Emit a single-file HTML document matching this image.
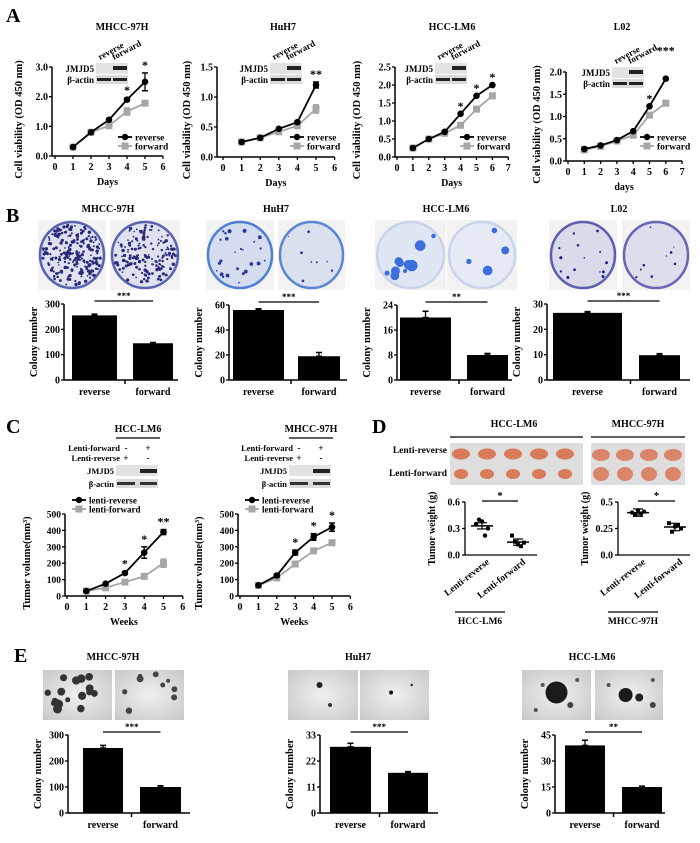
<!DOCTYPE html>
<html><head><meta charset="utf-8"><style>
html,body{margin:0;padding:0;background:#fff;}
svg{display:block;font-family:"Liberation Serif",serif;font-weight:bold;}
</style></head><body>
<svg id="fig" width="700" height="843" viewBox="0 0 700 843">
<defs>
<radialGradient id="dishB" cx="50%" cy="50%" r="50%"><stop offset="85%" stop-color="#e6e8f2"/><stop offset="100%" stop-color="#7f8fd0"/></radialGradient>
<radialGradient id="gray" cx="50%" cy="50%" r="70%"><stop offset="0%" stop-color="#f0f0f0"/><stop offset="100%" stop-color="#c8c8c8"/></radialGradient>
</defs>
<text x="6" y="22" font-size="20">A</text>
<text x="6" y="222" font-size="20">B</text>
<text x="6" y="433" font-size="20">C</text>
<text x="372" y="433" font-size="20">D</text>
<text x="14" y="662" font-size="20">E</text>
</svg>
<script>
// ---------- DATA ----------
const daysA=[1,2,3,4,5];
const daysA6=[1,2,3,4,5,6];
const a1Rev=[0.3,0.8,1.22,1.9,2.5];
const a1Fwd=[0.3,0.8,1.02,1.5,1.78];
const a1RevErr=[0,0,0.04,0.05,0.3];
const a1FwdErr=[0,0,0.05,0.12,0.06];
const a2Rev=[0.25,0.32,0.47,0.58,1.2];
const a2Fwd=[0.25,0.32,0.42,0.52,0.8];
const a2RevErr=[0,0,0,0.02,0.05];
const a2FwdErr=[0,0,0.03,0.03,0.07];
const a3Rev=[0.25,0.5,0.7,1.2,1.7,2.0];
const a3Fwd=[0.25,0.5,0.66,0.88,1.33,1.7];
const a4Rev=[0.27,0.35,0.47,0.67,1.23,1.85];
const a4Fwd=[0.25,0.33,0.45,0.58,1.03,1.3];
const aTicks1=[0,1,2,3];const aTickLabels1=["0.0","1.0","2.0","3.0"];
const aTicks2=[0,0.5,1,1.5];const aTickLabels2=["0.0","0.5","1.0","1.5"];
const aTicks3=[0,0.5,1,1.5,2,2.5];const aTickLabels3=["0.0","0.5","1.0","1.5","2.0","2.5"];
const aTicks4=[0,0.5,1,1.5,2];const aTickLabels4=["0.0","0.5","1.0","1.5","2.0"];
const groups=["reverse","forward"];
const b1Vals=[255,145];const b1Err=[5,3];const b1Ticks=[0,100,200,300];
const b2Vals=[56,19];const b2Err=[1,3];const b2Ticks=[0,20,40,60];
const b3Vals=[20,8];const b3Err=[2,0.5];const b3Ticks=[0,8,16,24];
const b4Vals=[26.5,9.8];const b4Err=[0.5,0.6];const b4Ticks=[0,10,20,30];
const weeks=[1,2,3,4,5];
const c1Rev=[30,75,140,265,390];const c1Fwd=[30,50,85,120,200];
const c1RevErr=[0,5,8,35,15];const c1FwdErr=[0,5,5,5,25];
const c2Rev=[65,125,265,360,420];const c2Fwd=[65,110,195,275,325];
const c2RevErr=[0,10,15,20,25];const c2FwdErr=[0,5,8,5,8];
const cTicks=[0,100,200,300,400,500];
const d1Rev=[0.35,0.4,0.38,0.22,0.3];const d1Fwd=[0.22,0.15,0.12,0.1,0.14];
const d2Rev=[0.4,0.38,0.42,0.39,0.41];const d2Fwd=[0.3,0.22,0.27,0.28,0.25];
const d1Ticks=[0,0.3,0.6];const d1TickLabels=["0.0","0.3","0.6"];
const d2Ticks=[0,0.25,0.5];const d2TickLabels=["0.0","0.25","0.5"];
const e1Vals=[250,100];const e1Err=[10,5];const e1Ticks=[0,100,200,300];
const e2Vals=[28,17];const e2Err=[1.5,0.5];const e2Ticks=[0,11,22,33];
const e3Vals=[39,15];const e3Err=[3,0.5];const e3Ticks=[0,15,30,45];

// ---------- HELPERS ----------
const NS='http://www.w3.org/2000/svg';
const svg=document.getElementById('fig');
function mk(tag,attrs,parent){const e=document.createElementNS(NS,tag);for(const k in attrs)e.setAttribute(k,attrs[k]);(parent||svg).appendChild(e);return e;}
function txt(x,y,s,size,anchor,rot,parent){const e=mk('text',{x:x,y:y,'font-size':size,'text-anchor':anchor||'middle'},parent);if(rot)e.setAttribute('transform','rotate('+rot+' '+x+' '+y+')');e.textContent=s;return e;}
function ln(x1,y1,x2,y2,w,c,parent){return mk('line',{x1:x1,y1:y1,x2:x2,y2:y2,stroke:c||'#000','stroke-width':w||1.3},parent);}
function ebar(x,y1,y2,parent){ln(x,y1,x,y2,1.3,'#000',parent);ln(x-3,y1,x+3,y1,1.5,'#000',parent);ln(x-3,y2,x+3,y2,1.5,'#000',parent);}

function title(x,y,s,name){const t=txt(x,y,s,10);

}

// ---------- PANEL A ----------
function blotA(bx,by,name){
  const g=mk('g',{});
  
  
  mk('rect',{x:bx,y:by,width:32,height:11,fill:'#e2e2e2'},g);
  mk('rect',{x:bx+17,y:by+3,width:14,height:4,fill:'#222'},g);
  mk('rect',{x:bx,y:by+12,width:32,height:9,fill:'#dadada'},g);
  mk('rect',{x:bx+1,y:by+15,width:14,height:3,fill:'#222'},g);
  mk('rect',{x:bx+17,y:by+15,width:14,height:3,fill:'#222'},g);
  txt(bx-2,by+9,'JMJD5',9,'end',0,g);
  txt(bx-2,by+20,'\u03b2-actin',9,'end',0,g);
  txt(bx+4,by-3,'reverse',9,'start',-28,g);
  txt(bx+18,by-3,'forward',9,'start',-28,g);
}
function lineChart(c,xs,rev,fwd,revErr,fwdErr,ticks,tickLabels,name){
  const g=mk('g',{});
  
  
  const X=v=>c.x0+v*c.dx, Y=v=>c.y0-(v/c.ymax)*(c.y0-c.ytop);
  ln(c.ax,c.y0,X(c.xmax),c.y0,1.5,'#000',g);
  ln(c.ax,c.ytop,c.ax,c.y0,1.5,'#000',g);
  ticks.forEach((t,i)=>{ln(c.ax-3,Y(t),c.ax,Y(t),1.3,'#000',g);txt(c.ax-4,Y(t)+3.5,tickLabels[i],c.fs||10,'end',0,g);});
  for(let i=0;i<=c.xmax;i++){ln(X(i),c.y0,X(i),c.y0+3,1.3,'#000',g);txt(X(i),c.y0+14,String(i),10,'middle',0,g);}
  txt((c.ax+X(c.xmax))/2,c.y0+29,c.xlabel,10,'middle',0,g);
  txt(c.yt,(c.y0+c.ytop)/2+8,c.ytitle,c.yfs||10.5,'middle',-90,g);
  [[fwd,fwdErr,'#a6a6a6','forward'],[rev,revErr,'#000','reverse']].forEach(([arr,err,col,nm])=>{
    const pts=arr.map((v,i)=>X(xs[i])+','+Y(v)).join(' ');
    const pl=mk('polyline',{points:pts,fill:'none',stroke:col,'stroke-width':1.8},g);
    
    
    arr.forEach((v,i)=>{
      if(err&&err[i]>0){const e=mk('g',{},g);ln(X(xs[i]),Y(v+err[i]),X(xs[i]),Y(v-err[i]),1.3,col,e);ln(X(xs[i])-3,Y(v+err[i]),X(xs[i])+3,Y(v+err[i]),1.5,col,e);ln(X(xs[i])-3,Y(v-err[i]),X(xs[i])+3,Y(v-err[i]),1.5,col,e);}
      let m;
      if(nm==='reverse'){m=mk('circle',{cx:X(xs[i]),cy:Y(v),r:3.3,fill:col},g);}
      else{m=mk('rect',{x:X(xs[i])-3.5,y:Y(v)-3.5,width:7,height:7,fill:col},g);}
      
      
    });
  });
  (c.stars||[]).forEach(s=>{const yy=Y(rev[s[0]]+(revErr?revErr[s[0]]:0));txt(X(xs[s[0]]),yy-4+(s[2]||0),s[1],12,'middle',0,g);});
  const lx=c.lx, ly=c.ly;
  const l1=mk('g',{},g);
  
  
  ln(lx,ly,lx+14,ly,1.8,'#000',l1);mk('circle',{cx:lx+7,cy:ly,r:3.2,fill:'#000'},l1);txt(lx+17,ly+3.5,c.l1||'reverse',c.lfs||9.5,'start',0,l1);
  const l2=mk('g',{},g);
  
  
  ln(lx,ly+9,lx+14,ly+9,1.8,'#a6a6a6',l2);mk('rect',{x:lx+3.5,y:ly+5.5,width:7,height:7,fill:'#a6a6a6'},l2);txt(lx+17,ly+12.5,c.l2||'forward',c.lfs||9.5,'start',0,l2);
}
title(122,30,'MHCC-97H','title-a-mhcc97h');
title(283,30,'HuH7','title-a-huh7');
title(452,30,'HCC-LM6','title-a-hcclm6');
title(622,30,'L02','title-a-l02');
lineChart({ax:52,x0:55,dx:18,xmax:6,y0:156,ytop:67,ymax:3,xlabel:'Days',yt:22,ytitle:'Cell viability (OD 450 nm)',lx:118,ly:137,stars:[[3,'*'],[4,'*']]},daysA,a1Rev,a1Fwd,a1RevErr,a1FwdErr,aTicks1,aTickLabels1,'chart-a-mhcc97h');
lineChart({ax:217,x0:223,dx:18.6,xmax:6,y0:157,ytop:67,ymax:1.5,xlabel:'Days',yt:190,ytitle:'Cell viability (OD 450 nm)',lx:290,ly:137,stars:[[4,'**']]},daysA,a2Rev,a2Fwd,a2RevErr,a2FwdErr,aTicks2,aTickLabels2,'chart-a-huh7');
lineChart({ax:395,x0:397,dx:15.9,xmax:7,y0:157,ytop:67,ymax:2.5,xlabel:'Days',yt:360,ytitle:'Cell viability (OD 450 nm)',lx:460,ly:137,stars:[[3,'*'],[4,'*'],[5,'*']]},daysA6,a3Rev,a3Fwd,null,null,aTicks3,aTickLabels3,'chart-a-hcclm6');
lineChart({ax:566,x0:568,dx:16.3,xmax:7,y0:161,ytop:72,ymax:2.0,xlabel:'days',yt:540,ytitle:'Cell viability (OD 450 nm)',lx:640,ly:137,stars:[[4,'*'],[5,'***',-20]]},daysA6,a4Rev,a4Fwd,null,null,aTicks4,aTickLabels4,'chart-a-l02');
blotA(96,63,'blot-a-mhcc97h');
blotA(270,63,'blot-a-huh7');
blotA(435,63,'blot-a-hcclm6');
blotA(612,67,'blot-a-l02');

// ---------- PHOTOS ----------
function dish(x,y,w,h,bg,rim,spots,name){
  const g=mk('g',{});
  
  
  mk('rect',{x:x,y:y,width:w,height:h,fill:'#f2f2f2'},g);
  mk('ellipse',{cx:x+w/2,cy:y+h/2,rx:w/2-2,ry:h/2-2,fill:bg,stroke:rim,'stroke-width':2.5},g);
  spots.forEach(s=>mk('circle',{cx:x+s[0]*w,cy:y+s[1]*h,r:s[2],fill:s[3]},g));
}
function spotsGen(n,seed,rmin,rmax,col){const out=[];let s=seed;const r=()=>{s=(s*9301+49297)%233280;return s/233280;};
  for(let i=0;i<n;i++){const a=r()*Math.PI*2,d=Math.sqrt(r())*0.44;out.push([0.5+Math.cos(a)*d,0.5+Math.sin(a)*d,rmin+r()*(rmax-rmin),col]);}return out;}
dish(38,220,68,70,'#dfe2ee','#5a63b0',spotsGen(220,3,0.8,1.8,'#2a2a7a'),'photo-b-mhcc97h-reverse');
dish(110,220,70,70,'#dfe2ee','#5a63b0',spotsGen(160,7,0.8,1.8,'#2a2a7a'),'photo-b-mhcc97h-forward');
dish(206,220,68,70,'#d5dced','#4f7fd0',spotsGen(25,11,0.7,2.2,'#2c3aa0'),'photo-b-huh7-reverse');
dish(278,220,67,70,'#dbe0ee','#5d86d2',spotsGen(8,13,0.5,1.5,'#2c3aa0'),'photo-b-huh7-forward');
dish(375,220,71,70,'#dfe6f4','#c9d3ea',spotsGen(10,17,2,6,'#3d6fdc'),'photo-b-hcclm6-reverse');
dish(447,220,70,70,'#e5eaf4','#c9d3ea',spotsGen(4,19,2,5,'#3d6fdc'),'photo-b-hcclm6-forward');
dish(549,220,68,70,'#d9dbea','#5d5fae',spotsGen(14,23,0.7,1.6,'#20208a'),'photo-b-l02-reverse');
dish(622,220,68,70,'#dcdeec','#6567b2',spotsGen(9,29,0.6,1.4,'#20208a'),'photo-b-l02-forward');

function micro(x,y,w,h,spots,name){
  const g=mk('g',{});
  
  
  mk('rect',{x:x,y:y,width:w,height:h,fill:'url(#gray)'},g);
  spots.forEach(s=>mk('circle',{cx:x+s[0]*w,cy:y+s[1]*h,r:s[2],fill:s[3]},g));
}
micro(43,670,69,50,spotsGen(18,31,2.5,4.5,'#333'),'photo-e-mhcc97h-reverse');
micro(115,670,69,50,spotsGen(9,37,1.5,3.5,'#444'),'photo-e-mhcc97h-forward');
micro(288,670,70,50,[[0.45,0.3,3,'#222'],[0.6,0.7,2,'#333']],'photo-e-huh7-reverse');
micro(360,670,69,50,[[0.45,0.45,2,'#111'],[0.75,0.3,1.2,'#222']],'photo-e-huh7-forward');
micro(522,670,69,50,[[0.5,0.45,11,'#1a1a1a'],[0.3,0.3,2,'#555'],[0.8,0.2,2,'#555'],[0.7,0.7,3,'#444'],[0.2,0.8,2,'#555']],'photo-e-hcclm6-reverse');
micro(595,670,68,50,[[0.45,0.5,7,'#1a1a1a'],[0.65,0.55,4,'#222'],[0.2,0.3,2,'#555'],[0.85,0.7,3,'#444'],[0.85,0.2,2,'#555']],'photo-e-hcclm6-forward');

// ---------- BAR CHARTS ----------
function barChart(c,vals,err,ticks,name){
  const g=mk('g',{});
  
  
  const Y=v=>c.y0-(v/ticks[ticks.length-1])*(c.y0-c.ytop);
  vals.forEach((v,i)=>{
    const b=c.bars[i];
    ebar((b[0]+b[1])/2,Y(v),Y(v+err[i]),g);
    const r=mk('rect',{x:b[0],y:Y(v),width:b[1]-b[0],height:c.y0-Y(v),fill:'#000'},g);
    
    
    txt((b[0]+b[1])/2,c.y0+15,groups[i],10,'middle',0,g);
  });
  ln(c.ax,c.ytop,c.ax,c.y0,1.5,'#000',g);
  ln(c.ax,c.y0,c.xend,c.y0,1.5,'#000',g);
  const mid=(c.bars[0][1]+c.bars[1][0])/2;
  ln(mid,c.y0,mid,c.y0+4,1.5,'#000',g);
  ticks.forEach(t=>{ln(c.ax-3,Y(t),c.ax,Y(t),1.3,'#000',g);txt(c.ax-4,Y(t)+3.5,String(t),10,'end',0,g);});
  txt(c.ax-27,(c.y0+c.ytop)/2,'Colony number',10.5,'middle',-90,g);
  const b0=c.bars[0],b1=c.bars[1];
  ln((b0[0]+b0[1])/2,c.ytop-3,(b1[0]+b1[1])/2,c.ytop-3,1.3,'#000',g);
  txt(((b0[0]+b0[1])/2+(b1[0]+b1[1])/2)/2,c.ytop-5,c.sig,9,'middle',0,g);
}
title(108,212,'MHCC-97H','title-b-mhcc97h');
title(276,212,'HuH7','title-b-huh7');
title(446,212,'HCC-LM6','title-b-hcclm6');
title(619,212,'L02','title-b-l02');
barChart({ax:64,y0:380,ytop:304,xend:178,bars:[[72,117],[133,173]],sig:'***'},b1Vals,b1Err,b1Ticks,'chart-b-mhcc97h');
barChart({ax:229,y0:380,ytop:305,xend:347,bars:[[233,284],[298,340]],sig:'***'},b2Vals,b2Err,b2Ticks,'chart-b-huh7');
barChart({ax:397,y0:380,ytop:305,xend:512,bars:[[400,451],[467,508]],sig:'**'},b3Vals,b3Err,b3Ticks,'chart-b-hcclm6');
barChart({ax:547,y0:380,ytop:304,xend:690,bars:[[553,622],[639,680]],sig:'***'},b4Vals,b4Err,b4Ticks,'chart-b-l02');
title(113,660,'MHCC-97H','title-e-mhcc97h');
title(358,660,'HuH7','title-e-huh7');
title(592,660,'HCC-LM6','title-e-hcclm6');
barChart({ax:68,y0:813,ytop:735,xend:190,bars:[[83,123],[140,181]],sig:'***'},e1Vals,e1Err,e1Ticks,'chart-e-mhcc97h');
barChart({ax:320,y0:813,ytop:735,xend:438,bars:[[330,371],[388,428]],sig:'***'},e2Vals,e2Err,e2Ticks,'chart-e-huh7');
barChart({ax:555,y0:813,ytop:735,xend:665,bars:[[565,605],[622,662]],sig:'**'},e3Vals,e3Err,e3Ticks,'chart-e-hcclm6');

// ---------- PANEL C ----------
function blotC(cx,name,label){
  const g=mk('g',{});
  
  
  txt(cx,432,label,10,'middle',0,g);
  ln(cx-22,438,cx+22,438,1.2,'#000',g);
  txt(cx-18,451,'Lenti-forward',8.5,'end',0,g);txt(cx-12,451,'-',9,'middle',0,g);txt(cx+10,451,'+',9,'middle',0,g);
  txt(cx-18,461,'Lenti-reverse',8.5,'end',0,g);txt(cx-12,461,'+',9,'middle',0,g);txt(cx+10,461,'-',9,'middle',0,g);
  mk('rect',{x:cx-22,y:465,width:42,height:11,fill:'#e2e2e2'},g);
  mk('rect',{x:cx+2,y:469,width:17,height:4,fill:'#222'},g);
  txt(cx-24,474,'JMJD5',8.5,'end',0,g);
  mk('rect',{x:cx-22,y:479,width:42,height:9,fill:'#dadada'},g);
  mk('rect',{x:cx-21,y:482,width:18,height:3,fill:'#333'},g);mk('rect',{x:cx+2,y:482,width:17,height:3,fill:'#333'},g);
  txt(cx-24,487,'\u03b2-actin',8.5,'end',0,g);
}
blotC(138,'blot-c-hcclm6','HCC-LM6');
blotC(311,'blot-c-mhcc97h','MHCC-97H');
lineChart({ax:65,x0:67,dx:19.3,xmax:6,y0:596,ytop:514,ymax:500,xlabel:'Weeks',yt:30,ytitle:'Tumor volume(mm\u00b3)',lx:72,ly:500,l1:'lenti-reverse',l2:'lenti-forward',lfs:9,fs:9.5,stars:[[2,'*'],[3,'*'],[4,'**']]},weeks,c1Rev,c1Fwd,c1RevErr,c1FwdErr,cTicks,cTicks.map(String),'chart-c-hcclm6');
lineChart({ax:238,x0:240,dx:18.4,xmax:6,y0:596,ytop:514,ymax:500,xlabel:'Weeks',yt:202,ytitle:'Tumor volume(mm\u00b3)',lx:245,ly:500,l1:'lenti-reverse',l2:'lenti-forward',lfs:9,fs:9.5,stars:[[2,'*'],[3,'*'],[4,'*']]},weeks,c2Rev,c2Fwd,c2RevErr,c2FwdErr,cTicks,cTicks.map(String),'chart-c-mhcc97h');

// ---------- PANEL D ----------
const dg=mk('g',{});


txt(514,427,'HCC-LM6',10,'middle',0,dg);ln(450,437,583,437,1.3,'#000',dg);
txt(638,427,'MHCC-97H',10,'middle',0,dg);ln(591,437,685,437,1.3,'#000',dg);
txt(447,453,'Lenti-reverse',9.5,'end',0,dg);txt(447,476,'Lenti-forward',9.5,'end',0,dg);
mk('rect',{x:450,y:443,width:133,height:42,fill:'#dedede'},dg);
mk('rect',{x:591,y:443,width:94,height:42,fill:'#dedede'},dg);
[0,1,2,3,4].forEach(i=>{mk('ellipse',{cx:461+i*26,cy:454,rx:9,ry:5.5,fill:'#d97a5a'},dg);mk('ellipse',{cx:461+i*26,cy:474,rx:7,ry:5,fill:'#d97a5a'},dg);});
[0,1,2,3].forEach(i=>{mk('ellipse',{cx:601+i*24,cy:455,rx:9,ry:6,fill:'#d9866a'},dg);mk('ellipse',{cx:601+i*24,cy:474,rx:8,ry:7,fill:'#d9866a'},dg);});
function scatter(c,rev,fwd,ticks,labels,name){
  const g=mk('g',{});
  
  
  const Y=v=>c.y0-(v/ticks[ticks.length-1])*(c.y0-c.ytop);
  ln(c.ax,c.ytop,c.ax,c.y0,1.3,'#000',g);ln(c.ax,c.y0,c.xend,c.y0,1.3,'#000',g);
  ticks.forEach((t,i)=>{ln(c.ax-3,Y(t),c.ax,Y(t),1.3,'#000',g);txt(c.ax-5,Y(t)+3.5,labels[i],10,'end',0,g);});
  [[rev,c.xr,'circle','reverse'],[fwd,c.xf,'rect','forward']].forEach(([arr,x,sh,nm])=>{
    const mean=arr.reduce((a,b)=>a+b,0)/arr.length;
    ln(x-11,Y(mean),x+11,Y(mean),1.5,'#000',g);ln(x,Y(mean-0.035),x,Y(mean+0.035),1.2,'#000',g);
    ln(x-5,Y(mean+0.035),x+5,Y(mean+0.035),1.2,'#000',g);ln(x-5,Y(mean-0.035),x+5,Y(mean-0.035),1.2,'#000',g);
    arr.forEach((v,i)=>{const dx=(i-2)*3;let m;
      if(sh==='circle')m=mk('circle',{cx:x+dx,cy:Y(v),r:2.2,fill:'#000'},g);
      else m=mk('rect',{x:x+dx-2,y:Y(v)-2,width:4,height:4,fill:'#000'},g);
      
      });
  });
  ln(c.xr,c.ytop-1,c.xf,c.ytop-1,1.2,'#000',g);txt((c.xr+c.xf)/2,c.ytop-3,'*',11,'middle',0,g);
  txt(c.ax-30,(c.y0+c.ytop)/2,'Tumor weight  (g)',10,'middle',-90,g);
  txt(c.xr+8,c.y0+8,'Lenti-reverse',9.5,'end',-38,g);
  txt(c.xf+8,c.y0+8,'Lenti-forward',9.5,'end',-38,g);
  ln(c.ax-10,612,c.ax+40,612,1.2,'#000',g);
  txt(c.ax+15,624,c.group,9.5,'middle',0,g);
}
scatter({ax:465,xend:537,y0:555,ytop:502,xr:482,xf:518,group:'HCC-LM6'},d1Rev,d1Fwd,d1Ticks,d1TickLabels,'chart-d-hcclm6');
scatter({ax:618,xend:690,y0:555,ytop:502,xr:638,xf:675,group:'MHCC-97H'},d2Rev,d2Fwd,d2Ticks,d2TickLabels,'chart-d-mhcc97h');
</script>
</body></html>
